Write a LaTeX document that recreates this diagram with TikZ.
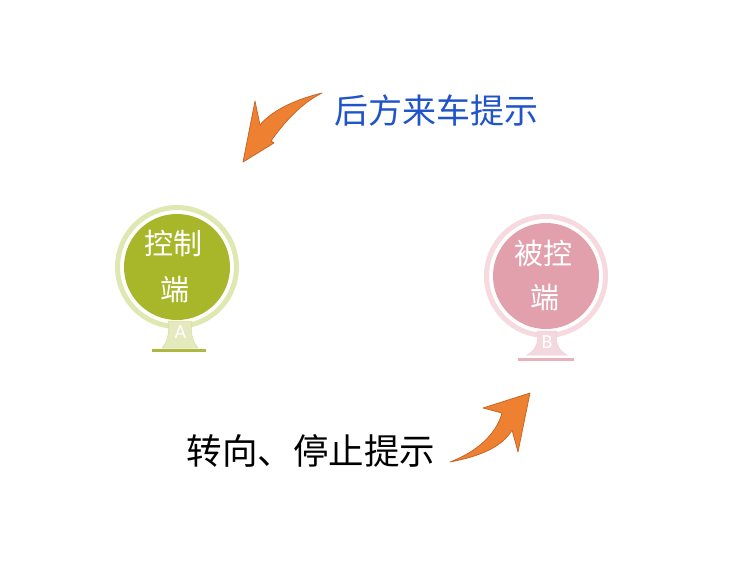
\documentclass[tikz,border=0pt]{standalone}
\usepackage{fontspec}
\newfontfamily\cjk{Noto Sans CJK SC}
\newfontfamily\lat{Carlito}
\definecolor{afill}{RGB}{168,182,42}
\definecolor{aring}{RGB}{224,232,178}
\definecolor{astand}{RGB}{228,234,190}
\definecolor{abase}{RGB}{172,185,62}
\definecolor{bfill}{RGB}{226,160,172}
\definecolor{bring}{RGB}{246,218,223}
\definecolor{bstand}{RGB}{243,216,221}
\definecolor{bbase}{RGB}{232,178,188}
\definecolor{arrowfill}{RGB}{238,128,50}
\definecolor{arrowline}{RGB}{196,98,36}
\definecolor{titleblue}{RGB}{32,84,200}
\tikzset{
  arrowshape/.style={fill=arrowfill, draw=arrowline, line width=0.7pt, line join=round},
  bigtext/.style={inner sep=0pt, font=\cjk\fontsize{34pt}{40pt}\selectfont},
  bigtextb/.style={inner sep=0pt, font=\cjk\fontsize{35.5pt}{40pt}\selectfont},
  disctext/.style={inner sep=0pt, text=white, font=\cjk\fontsize{29pt}{34pt}\selectfont},
  letter/.style={inner sep=0pt, text=white, font=\lat\fontsize{20pt}{24pt}\selectfont},
}
\begin{document}
\begin{tikzpicture}[x=1pt,y=-1pt]
\useasboundingbox (0,0) rectangle (750,562);
\fill[white] (0,0) rectangle (750,562);

% ---- disc A ----
\draw[aring, line width=5pt] (177,267) circle (59.5);
\fill[afill] (177,267) circle (53);
\fill[astand, draw=aring!80!abase, line width=0.5pt] (168,321) .. controls (170,334) and (167,342) .. (162,348) -- (198,348) .. controls (193,342) and (190,334) .. (192,321) -- cycle;
\draw[abase, line width=3pt] (152,350) -- (206,350);
\node[letter] (la) at (180.5,332) {A};
\node[disctext] (a1) at (173,243) {控制};
\node[disctext] (a2) at (175,290) {端};

% ---- disc B ----
\draw[bring, line width=5pt] (546,276) circle (59.5);
\fill[bfill] (546,276) circle (53);
\fill[bstand, draw=bring!70!bbase, line width=0.5pt] (537,331) .. controls (539,343) and (536,350) .. (527,355) -- (567,355) .. controls (558,350) and (555,343) .. (557,331) -- cycle;
\draw[bbase, line width=3pt] (518,359) -- (574,359);
\node[letter] (lb) at (547,342) {B};
\node[disctext] (b1) at (543,253) {被控};
\node[disctext] (b2) at (545,298) {端};

% ---- arrows ----
\draw[arrowshape] (322,93) .. controls (297,99) and (272,110) .. (260,125)
  -- (255,101) -- (243,162) -- (274,143) -- (271,141)
  .. controls (283,124) and (300,104) .. cycle;
\draw[arrowshape] (450,462) .. controls (476,452) and (496,435) .. (502,413)
  -- (483,408) -- (530,393) -- (518,452) -- (512,430)
  .. controls (503,446) and (482,456) .. cycle;

% ---- labels ----
\node[bigtext, text=titleblue] (t1) at (436,111) {后方来车提示};
\node[bigtextb, text=black] (t2) at (311,451) {转向、停止提示};
\end{tikzpicture}
\end{document}
